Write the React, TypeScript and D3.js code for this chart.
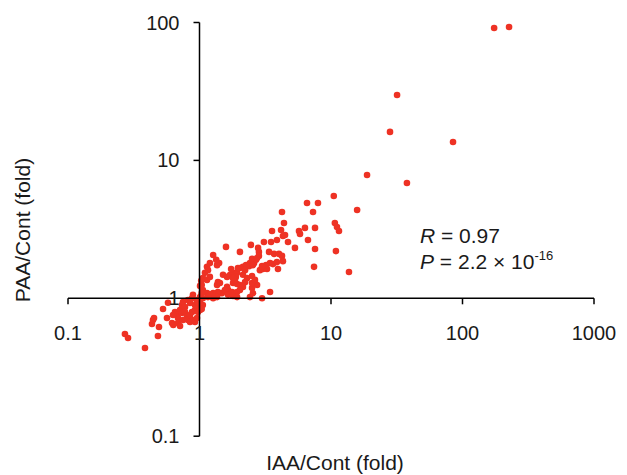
import * as d3 from 'd3';

// IAA/Cont 倍率 (x) と PAA/Cont 倍率 (y) — 図から読み取った値
const iaaFold = [
  174, 226, 31.8, 28.1, 84.7, 18.8, 37.8, 10.5, 6.57, 7.96,
  7.30, 15.8, 4.24, 4.39, 6.34, 5.71, 5.81, 7.56, 10.7, 11.1,
  11.5, 3.56, 4.17, 4.31, 4.47, 6.68, 5.32, 7.56, 10.9, 7.43,
  13.7, 3.88, 3.50, 3.09, 4.71, 2.46, 1.59, 2.03, 2.79, 2.83,
  2.83, 3.69, 4.02, 4.24, 4.31, 3.38, 2.51, 2.60, 2.69, 3.44,
  3.62, 3.88, 3.04, 2.88, 3.26, 3.21, 2.99, 3.95, 2.51, 2.64,
  2.74, 2.51, 3.44, 2.99, 2.38, 2.42, 2.51, 2.55, 2.74, 1.41,
  1.36, 1.20, 1.14, 1.16, 1.10, 1.06, 1.14, 1.20, 1.04, 1.06,
  1.14, 1.38, 1.36, 1.43, 1.51, 1.62, 1.71, 1.80, 1.93, 1.80,
  1.93, 2.03, 2.14, 1.62, 1.65, 1.77, 1.93, 2.03, 1.48, 1.38,
  1.27, 1.20, 2.14, 2.30, 2.22, 2.51, 2.64, 2.42, 2.55, 1.01,
  0.957, 0.892, 1.06, 0.974, 1.27, 1.34, 2.03, 2.14, 2.26, 2.22,
  1.89, 1.86, 1.80, 1.56, 1.65, 1.80, 1.93, 1.36, 1.27, 1.16,
  1.04, 1.01, 1.03, 1.74, 1.96,
  0.271, 0.286, 0.385, 0.483, 0.492, 0.435, 0.443, 0.451, 0.528, 0.566,
  0.618, 0.651, 0.674, 0.686, 0.629, 0.686, 0.711, 0.711, 0.736, 0.749,
  0.776, 0.818, 0.847, 0.877, 0.736, 0.776, 0.803, 0.749, 0.818, 0.847,
  0.877, 0.924, 0.974, 1.01, 0.847, 0.892, 0.924, 0.957, 1.04, 1.01,
  1.06, 0.924, 0.957, 0.576, 0.632,
];
const paaFold = [
  91.2, 92.8, 29.8, 16.1, 13.6, 7.84, 6.86, 5.52, 4.91, 4.91,
  4.23, 4.37, 4.23, 3.52, 3.24, 3.08, 2.93, 3.24, 3.52, 3.29,
  3.08, 3.08, 3.13, 2.83, 2.88, 2.65, 2.32, 2.28, 2.20, 1.69,
  1.55, 2.65, 2.56, 2.56, 2.56, 2.44, 2.36, 2.17, 2.32, 2.17,
  2.03, 2.10, 2.10, 2.03, 1.86, 2.17, 1.83, 1.80, 1.90, 1.80,
  1.77, 1.83, 1.63, 1.60, 1.63, 1.74, 1.71, 1.63, 1.45, 1.31,
  1.25, 1.19, 1.11, 1.00, 1.71, 1.80, 1.93, 1.74, 1.96, 1.80,
  1.74, 1.80, 1.69, 1.60, 1.53, 1.40, 1.36, 1.43, 1.25, 1.15,
  1.09, 1.31, 1.25, 1.29, 1.48, 1.43, 1.48, 1.53, 1.53, 1.29,
  1.27, 1.25, 1.21, 1.21, 1.15, 1.11, 1.11, 1.15, 1.09, 1.11,
  1.09, 1.07, 1.48, 1.40, 1.31, 1.29, 1.36, 1.02, 1.09, 1.02,
  0.972, 1.06, 0.894, 0.865, 2.06, 1.90, 1.66, 1.69, 1.74, 1.60,
  1.43, 1.36, 1.40, 1.15, 1.06, 1.04, 1.02, 1.02, 1.00, 1.02,
  1.09, 1.23, 1.34, 1.63, 1.66,
  0.551, 0.515, 0.436, 0.533, 0.619, 0.651, 0.696, 0.719, 0.836, 0.719,
  0.662, 0.796, 0.756, 0.719, 0.756, 0.662, 0.630, 0.823, 0.894, 0.940,
  0.865, 0.972, 0.925, 1.00, 0.782, 0.796, 0.732, 0.696, 0.696, 0.756,
  0.796, 0.823, 0.796, 0.823, 0.673, 0.696, 0.673, 0.719, 0.836, 0.925,
  1.00, 0.894, 0.940, 0.929, 0.640,
];

const xTicks = [0.1, 1, 10, 100, 1000];
const xTickLabels = ['0.1', '1', '10', '100', '1000'];
const yTicks = [0.1, 1, 10, 100];
const yTickLabels = ['0.1', '1', '10', '100'];

const W = 627;
const H = 475;
const FONT = '"Liberation Sans", Arial, Helvetica, sans-serif';
const RED = '#ee3224';

export default function App() {
  const x = d3.scaleLog().domain([0.1, 1000]).range([68, 594]);
  const y = d3.scaleLog().domain([0.1, 100]).range([436.2, 22.5]);
  const x0 = x(1);
  const y0 = y(1);
  const pts = d3.zip(iaaFold, paaFold);

  return (
    <div style={{ position: 'absolute', left: 0, top: 0 }}>
      <svg width={W} height={H} style={{ display: 'block', background: '#fff' }}>
        {/* 点 */}
        <g>
          {pts.map(([a, b], i) => (
            <circle key={i} cx={x(a)} cy={y(b)} r={3.3} fill={RED} />
          ))}
        </g>

        {/* 軸線 (1,1 で交差) */}
        <g stroke="#000" strokeWidth={1.5} fill="none">
          <line x1={x(0.1)} x2={x(1000)} y1={y0} y2={y0} />
          <line x1={x0} x2={x0} y1={y(0.1)} y2={y(100)} />
          {xTicks.filter(t => t !== 1).map(t => (
            <line key={'xt' + t} x1={x(t)} x2={x(t)} y1={y0} y2={y0 + 6} />
          ))}
          {yTicks.filter(t => t !== 1).map(t => (
            <line key={'yt' + t} x1={x0 - 6} x2={x0} y1={y(t)} y2={y(t)} />
          ))}
        </g>

        <g fontFamily={FONT} fontSize={20} fill="#1a1a1a">
          {xTicks.map((t, i) => (
            <text key={'xl' + t} x={x(t)} y={y0 + 42} textAnchor="middle">{xTickLabels[i]}</text>
          ))}
          {yTicks.map((t, i) => (
            <text key={'yl' + t} x={x0 - 20} y={y(t) + 7} textAnchor="end">{yTickLabels[i]}</text>
          ))}
        </g>

        <g fontFamily={FONT} fontSize={21} fill="#1a1a1a">
          <text x={335} y={470} textAnchor="middle">IAA/Cont (fold)</text>
          <text transform="translate(30,230) rotate(-90)" textAnchor="middle">PAA/Cont (fold)</text>
          <text x={420} y={243}>
            <tspan fontStyle="italic">R</tspan> = 0.97
          </text>
          <text x={420} y={269}>
            <tspan fontStyle="italic">P</tspan> = 2.2 × 10<tspan fontSize={13} dy={-9}>-16</tspan>
          </text>
        </g>
      </svg>
    </div>
  );
}
